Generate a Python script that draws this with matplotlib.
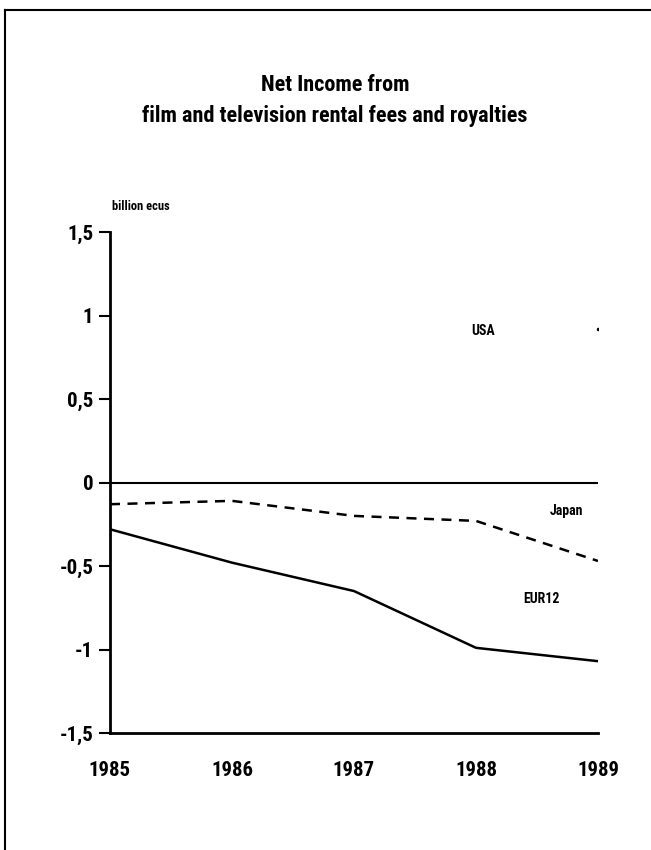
import matplotlib.pyplot as plt
from matplotlib import font_manager
from matplotlib.lines import Line2D

# net income, billion ecus
years = [1985, 1986, 1987, 1988, 1989]
eur12 = [-0.28, -0.48, -0.65, -0.99, -1.07]
japan = [-0.13, -0.11, -0.20, -0.23, -0.47]
usa_year = [1989]
usa = [0.92]

yticks = [1.5, 1, 0.5, 0, -0.5, -1, -1.5]
ytick_labels = ['1,5', '1', '0,5', '0', '-0,5', '-1', '-1,5']


def pick_narrow_font():
    # a narrow bold face if one is around, otherwise the default sans
    fonts = font_manager.fontManager.ttflist
    names = {f.name for f in fonts}
    for cand in ['Liberation Sans Narrow', 'Roboto Condensed',
                 'Open Sans Condensed', 'DejaVu Sans Condensed',
                 'Noto Sans Condensed']:
        if cand in names:
            return cand, 'normal'
    for f in fonts:
        if 'condensed' in str(f.stretch) and f.weight in ('bold', 700):
            return f.name, f.stretch
    return 'DejaVu Sans', 'normal'


def main():
    family, stretch = pick_narrow_font()
    plt.rcParams['font.family'] = [family, 'DejaVu Sans']
    plt.rcParams['font.stretch'] = stretch
    plt.rcParams['font.weight'] = 'bold'
    fig = plt.figure(figsize=(6.51, 8.5), dpi=100)

    # page frame, open to the right and bottom
    top = 1 - 10 / 850
    left = 5 / 651
    fig.lines.append(Line2D([left, 1.0], [top, top], transform=fig.transFigure,
                            color='black', linewidth=1.5))
    fig.lines.append(Line2D([left, left], [0, top], transform=fig.transFigure,
                            color='black', linewidth=1.5))

    ax = fig.add_axes([110 / 651, 1 - 733 / 850, 488 / 651, 501 / 850])
    ax.set_xlim(1985, 1989)
    ax.set_ylim(-1.5, 1.5)

    ax.axhline(0, color='black', linewidth=1.5)
    ax.plot(years, japan, color='black', linewidth=1.8, linestyle=(0, (4, 3)))
    ax.plot(years, eur12, color='black', linewidth=1.8)
    ax.plot(usa_year, usa, 'o', color='black', markersize=1.5)

    ax.text(1988.06, 0.91, 'USA', fontsize=10, ha='center', va='center')
    ax.text(1988.74, -0.17, 'Japan', fontsize=10, ha='center', va='center')
    ax.text(1988.54, -0.70, 'EUR12', fontsize=10, ha='center', va='center')

    for side in ['top', 'right']:
        ax.spines[side].set_visible(False)
    ax.spines['left'].set_linewidth(2)
    ax.spines['bottom'].set_linewidth(2)

    ax.set_yticks(yticks)
    ax.set_yticklabels(ytick_labels)
    ax.set_xticks(years)
    ax.set_xticklabels([str(y) for y in years])
    ax.tick_params(axis='y', length=8, width=1.5, labelsize=15, pad=4)
    ax.tick_params(axis='x', length=0, labelsize=15, pad=20)

    ax.text(0.005, 1.05, 'billion ecus', transform=ax.transAxes,
            fontsize=9, ha='left', va='center')

    fig.text(335 / 651, 1 - 85 / 850, 'Net Income from', fontsize=16,
             ha='center', va='center')
    fig.text(335 / 651, 1 - 116 / 850,
             'film and television rental fees and royalties', fontsize=16,
             ha='center', va='center')

    fig.savefig('out.png', dpi=100)


if __name__ == '__main__':
    main()
